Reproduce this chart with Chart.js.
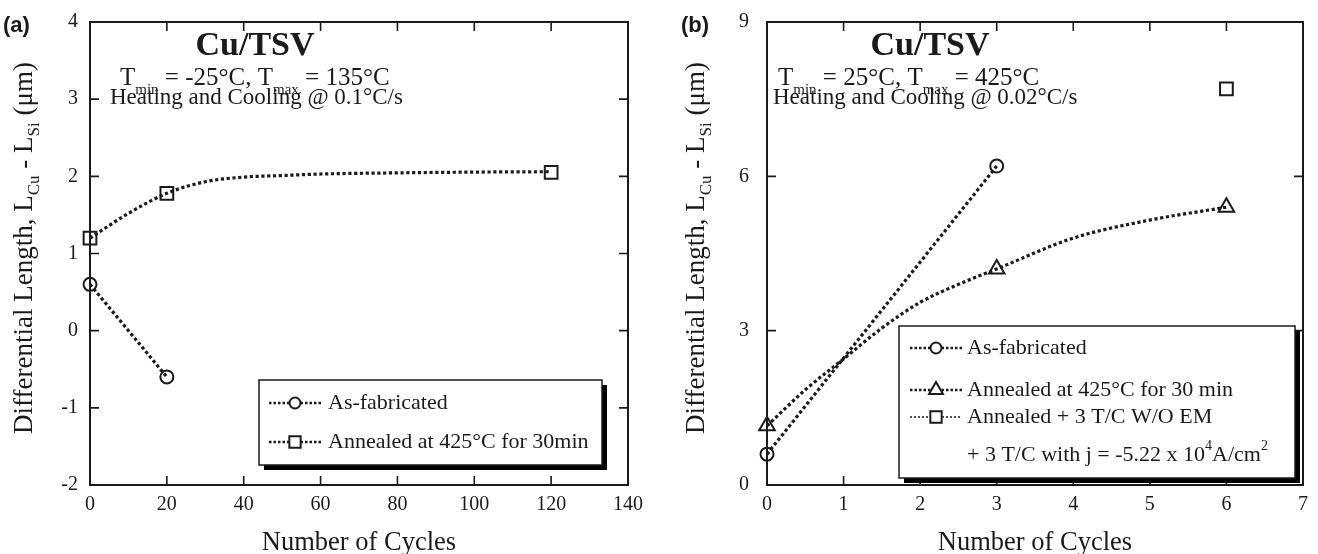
<!DOCTYPE html>
<html><head><meta charset="utf-8">
<script src="https://cdn.jsdelivr.net/npm/chart.js@4/dist/chart.umd.min.js"></script>
<style>
html,body{margin:0;padding:0;background:#fff;width:1318px;height:554px;overflow:hidden}
.p{position:absolute;top:0;width:659px;height:554px}
</style></head><body>
<div class="p" style="left:0"><canvas id="ca" width="659" height="554"></canvas></div>
<div class="p" style="left:659px"><canvas id="cb" width="659" height="554"></canvas></div>
<script>
// ---------- DATA ----------
// Panel (a): Tmin=-25C, Tmax=135C
const aCyclesAsFab = [0, 20];
const aAsFab = [0.6, -0.6];
const aCyclesAnneal = [0, 20, 120];
const aAnneal = [1.2, 1.78, 2.05];
const aFitCycles = [0, 10, 20, 30, 40, 50, 60, 80, 100, 120];
const aFit = [1.2, 1.52, 1.78, 1.93, 1.99, 2.01, 2.03, 2.045, 2.055, 2.06];
const aXTicks = [0, 20, 40, 60, 80, 100, 120, 140];
const aYTicks = [-2, -1, 0, 1, 2, 3, 4];
// Panel (b): Tmin=25C, Tmax=425C
const bCyclesAsFab = [0, 3];
const bAsFab = [0.6, 6.2];
const bCyclesAnneal = [0, 3, 6];
const bAnneal = [1.15, 4.2, 5.4];
const bFitCycles = [0, 0.5, 1, 1.5, 2, 2.5, 3, 4, 5, 6];
const bFit = [1.15, 1.85, 2.45, 3.05, 3.55, 3.9, 4.2, 4.8, 5.15, 5.4];
const bCyclesEM = [6];
const bEM = [7.7];
const bXTicks = [0, 1, 2, 3, 4, 5, 6, 7];
const bYTicks = [0, 3, 6, 9];

const SERIF = '"Liberation Serif", "Times New Roman", serif';
const INK = '#1a1a1a';
const font = (s, b) => (b ? 'bold ' : '') + s + 'px ' + SERIF;
const pts = (xs, ys) => xs.map((x, i) => ({x, y: ys[i]}));

function drawRich(ctx, x, y, parts, size, measureOnly, subScale) {
  let cx = x;
  const k = subScale || 0.62;
  for (const [t, m] of parts) {
    const s = m === 'n' ? size : Math.round(size * k);
    const dy = m === 'sub' ? size * 0.36 : m === 'sup' ? -size * 0.4 : 0;
    ctx.font = font(s);
    if (!measureOnly) ctx.fillText(t, cx, y + dy);
    cx += ctx.measureText(t).width;
  }
  return cx - x;
}

function marker(ctx, style, x, y, r) {
  ctx.beginPath();
  if (style === 'circle') ctx.arc(x, y, r, 0, Math.PI * 2);
  else if (style === 'rect') { const s = r * Math.SQRT1_2; ctx.rect(x - s, y - s, 2 * s, 2 * s); }
  else if (style === 'triangle') {
    ctx.moveTo(x, y - r);
    ctx.lineTo(x + r * Math.sin(2 * Math.PI / 3), y - r * Math.cos(2 * Math.PI / 3));
    ctx.lineTo(x + r * Math.sin(4 * Math.PI / 3), y - r * Math.cos(4 * Math.PI / 3));
    ctx.closePath();
  }
  ctx.fillStyle = '#fff'; ctx.fill();
  ctx.lineWidth = 2; ctx.strokeStyle = INK; ctx.stroke();
}

const panelPlugin = {
  id: 'panel',
  afterDatasetsDraw(chart, args, o) {
    const ctx = chart.ctx, A = chart.chartArea, xs = chart.scales.x, ys = chart.scales.y;
    ctx.save();
    ctx.fillStyle = INK; ctx.strokeStyle = INK;
    // frame
    ctx.lineWidth = 2;
    ctx.strokeRect(A.left, A.top, A.right - A.left, A.bottom - A.top);
    // inward ticks
    ctx.lineWidth = 1.6;
    const T = 9;
    xs.ticks.forEach(t => {
      const p = xs.getPixelForValue(t.value);
      if (Math.abs(p - A.left) < 2 || Math.abs(p - A.right) < 2) return;
      ctx.beginPath();
      ctx.moveTo(p, A.bottom); ctx.lineTo(p, A.bottom - T);
      ctx.moveTo(p, A.top); ctx.lineTo(p, A.top + T);
      ctx.stroke();
    });
    ys.ticks.forEach(t => {
      const p = ys.getPixelForValue(t.value);
      if (Math.abs(p - A.top) < 2 || Math.abs(p - A.bottom) < 2) return;
      ctx.beginPath();
      ctx.moveTo(A.left, p); ctx.lineTo(A.left + T, p);
      ctx.moveTo(A.right, p); ctx.lineTo(A.right - T, p);
      ctx.stroke();
    });
    // x title
    ctx.textAlign = 'left'; ctx.textBaseline = 'middle';
    ctx.font = font(26.5);
    const xt = 'Number of Cycles';
    ctx.fillText(xt, (A.left + A.right) / 2 - ctx.measureText(xt).width / 2, 543);
    // y title (rotated, with subscripts)
    const yParts = [['Differential Length, L', 'n'], ['Cu', 'sub'], [' - L', 'n'], ['Si', 'sub'], [' (\u03bcm)', 'n']];
    ctx.save();
    ctx.translate(o.yTitleX, 248);
    ctx.rotate(-Math.PI / 2);
    const w = drawRich(ctx, 0, 0, yParts, 27, true);
    drawRich(ctx, -w / 2, 0, yParts, 27);
    ctx.restore();
    // panel letter
    ctx.font = 'bold 22px "Liberation Sans", Arial, sans-serif';
    ctx.textBaseline = 'alphabetic';
    ctx.fillText(o.letter, o.letterX, 32);
    // annotations
    ctx.font = font(34, true);
    ctx.textAlign = 'center';
    ctx.fillText('Cu/TSV', o.titleX, 55);
    ctx.textAlign = 'left';
    drawRich(ctx, o.l1X, 85, o.line1, 25, false, 0.6);
    ctx.font = font(23);
    ctx.fillText(o.line2, o.l2X, 104);
    // legend
    const L = o.legend;
    ctx.fillStyle = '#000';
    ctx.fillRect(L.x + 5, L.y + 5, L.w, L.h);
    ctx.fillStyle = '#fff';
    ctx.fillRect(L.x, L.y, L.w, L.h);
    ctx.lineWidth = 1.5; ctx.strokeStyle = INK;
    ctx.strokeRect(L.x, L.y, L.w, L.h);
    ctx.textBaseline = 'middle';
    L.rows.forEach(r => {
      if (r.style) {
        ctx.save();
        ctx.setLineDash(r.thin ? [2, 2] : [2.5, 2]);
        ctx.lineWidth = r.thin ? 1.5 : 2.5;
        ctx.strokeStyle = INK;
        ctx.beginPath(); ctx.moveTo(L.sx0, r.y); ctx.lineTo(L.sx1, r.y); ctx.stroke();
        ctx.restore();
        marker(ctx, r.style, (L.sx0 + L.sx1) / 2, r.y, r.style === 'circle' ? 5.5 : 8);
      }
      ctx.fillStyle = INK;
      drawRich(ctx, L.tx, r.y, r.text, 22);
    });
    ctx.restore();
  }
};

function lineDS(data, extra) {
  return Object.assign({
    data, showLine: true, borderColor: INK, borderWidth: 3.2, borderDash: [3.2, 2.6],
    pointRadius: 0, fill: false, clip: false, tension: 0
  }, extra || {});
}
function markDS(data, style, r) {
  return {
    data, showLine: false, pointStyle: style, pointRadius: r, pointBorderWidth: 2,
    pointBorderColor: INK, pointBackgroundColor: 'rgba(255,255,255,0)', clip: false
  };
}
function noPad(s) { s.paddingTop = 0; s.paddingBottom = 0; s.paddingLeft = 0; s.paddingRight = 0; }

function makeChart(id, cfg) {
  return new Chart(document.getElementById(id), {
    type: 'scatter',
    data: { datasets: cfg.datasets },
    options: {
      responsive: false, animation: false, events: [],
      layout: { padding: { left: 0, right: cfg.padR, top: 22, bottom: 0 } },
      plugins: { legend: { display: false }, tooltip: { enabled: false }, panel: cfg.panel },
      scales: {
        x: {
          type: 'linear', min: cfg.xMin, max: cfg.xMax,
          afterBuildTicks: s => { s.ticks = cfg.xTicks.map(v => ({value: v})); },
          grid: { display: false, drawTicks: false }, border: { display: false },
          ticks: { font: { family: SERIF, size: 20 }, color: INK, padding: 8, maxRotation: 0 },
          afterFit: s => { s.height = 69; noPad(s); }
        },
        y: {
          type: 'linear', min: cfg.yMin, max: cfg.yMax,
          afterBuildTicks: s => { s.ticks = cfg.yTicks.map(v => ({value: v})); },
          grid: { display: false, drawTicks: false }, border: { display: false },
          ticks: { font: { family: SERIF, size: 20 }, color: INK, padding: cfg.yPad },
          afterFit: s => { s.width = cfg.yW; noPad(s); }
        }
      }
    },
    plugins: [panelPlugin]
  });
}

makeChart('ca', {
  xMin: 0, xMax: 140, yMin: -2, yMax: 4, xTicks: aXTicks, yTicks: aYTicks,
  padR: 31, yW: 90, yPad: 12,
  datasets: [
    markDS(pts(aCyclesAsFab, aAsFab), 'circle', 6.5),
    markDS(pts(aCyclesAnneal, aAnneal), 'rect', 9),
    lineDS(pts(aCyclesAsFab, aAsFab)),
    lineDS(pts(aFitCycles, aFit), { cubicInterpolationMode: 'monotone' })
  ],
  panel: {
    letter: '(a)', letterX: 3, yTitleX: 25, titleX: 255, l1X: 120, l2X: 110,
    line1: [['T', 'n'], ['min', 'sub'], [' = -25\u00b0C, T', 'n'], ['max', 'sub'], [' = 135\u00b0C', 'n']],
    line2: 'Heating and Cooling @ 0.1\u00b0C/s',
    legend: {
      x: 259, y: 380, w: 343, h: 85, sx0: 269, sx1: 321, tx: 328,
      rows: [
        { y: 403, style: 'circle', text: [['As-fabricated', 'n']] },
        { y: 442, style: 'rect', text: [['Annealed at 425\u00b0C for 30min', 'n']] }
      ]
    }
  }
});

makeChart('cb', {
  xMin: 0, xMax: 7, yMin: 0, yMax: 9, xTicks: bXTicks, yTicks: bYTicks,
  padR: 15, yW: 108, yPad: 18,
  datasets: [
    markDS(pts(bCyclesAsFab, bAsFab), 'circle', 6.5),
    markDS(pts(bCyclesAnneal, bAnneal), 'triangle', 9),
    markDS(pts(bCyclesEM, bEM), 'rect', 9),
    lineDS(pts(bCyclesAsFab, bAsFab)),
    lineDS(pts(bFitCycles, bFit), { cubicInterpolationMode: 'monotone' })
  ],
  panel: {
    letter: '(b)', letterX: 22, yTitleX: 38, titleX: 271, l1X: 119, l2X: 114,
    line1: [['T', 'n'], ['min', 'sub'], [' = 25\u00b0C, T', 'n'], ['max', 'sub'], [' = 425\u00b0C', 'n']],
    line2: 'Heating and Cooling @ 0.02\u00b0C/s',
    legend: {
      x: 240, y: 326, w: 396, h: 152, sx0: 251, sx1: 303, tx: 308,
      rows: [
        { y: 348, style: 'circle', text: [['As-fabricated', 'n']] },
        { y: 390, style: 'triangle', text: [['Annealed at 425\u00b0C for 30 min', 'n']] },
        { y: 417, style: 'rect', thin: true, text: [['Annealed + 3 T/C W/O EM', 'n']] },
        { y: 455, text: [['+ 3 T/C with j = -5.22 x 10', 'n'], ['4', 'sup'], ['A/cm', 'n'], ['2', 'sup']] }
      ]
    }
  }
});
</script>
</body></html>
